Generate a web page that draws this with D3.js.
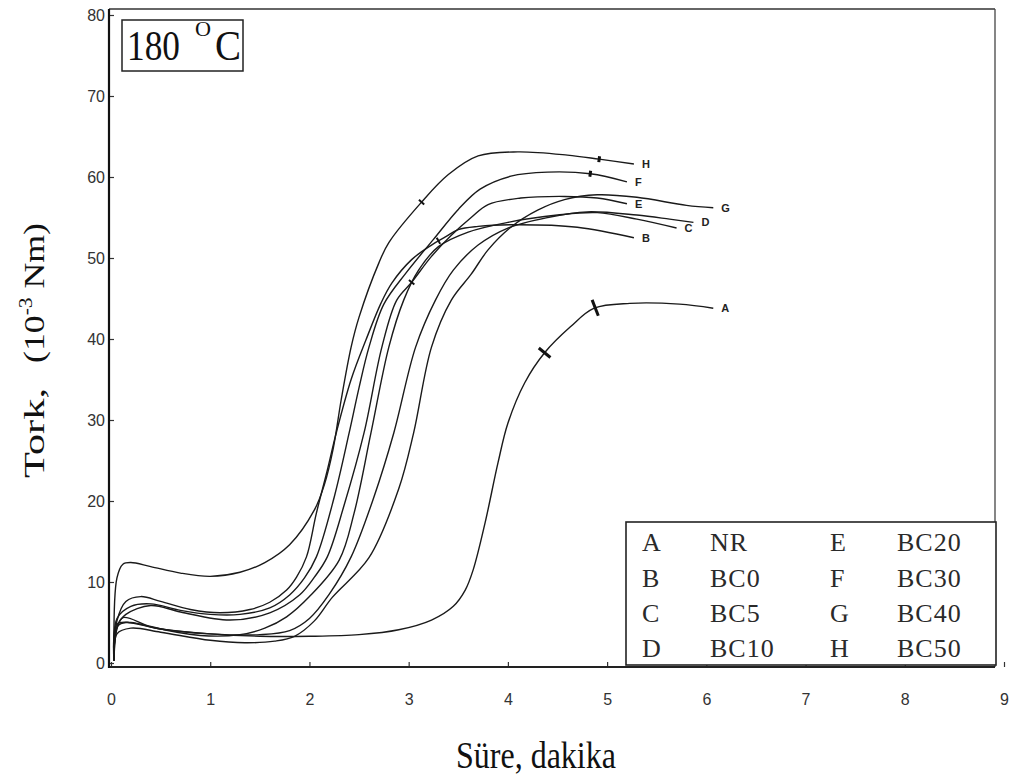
<!DOCTYPE html>
<html>
<head>
<meta charset="utf-8">
<script src="https://cdn.jsdelivr.net/npm/d3@7"></script>
<style>
  html, body { margin: 0; padding: 0; background: #fff; }
  svg { display: block; }
  .serif { font-family: "Liberation Serif", "Times New Roman", serif; fill: #111; }
  .legend { fill: #2a2a2a; }
  .tick text { font-family: "Liberation Sans", Arial, sans-serif; font-size: 16px; fill: #333; }
  .tick line { stroke: #333; stroke-width: 1.2; }
</style>
</head>
<body>
<svg id="chart" width="1011" height="778"></svg>
<script>
// Rheometer cure curves at 180 °C: torque (10^-3 Nm) against time (minutes)
const xTicks = [0, 1, 2, 3, 4, 5, 6, 7, 8, 9];
const yTicks = [0, 10, 20, 30, 40, 50, 60, 70, 80];

const legendCodes = ["A", "B", "C", "D", "E", "F", "G", "H"];
const legendNames = ["NR", "BC0", "BC5", "BC10", "BC20", "BC30", "BC40", "BC50"];

// [time, torque]
const curveA = [[0.03,0.3],[0.07,4.6],[0.15,5.0],[0.5,4.2],[1.0,3.6],[1.5,3.3],[2.0,3.3],[2.5,3.5],[2.9,4.1],[3.23,5.3],[3.45,7.0],[3.57,9.0],[3.65,11.5],[3.77,17.3],[3.9,24.7],[4.0,29.6],[4.17,34.6],[4.37,38.3],[4.63,41.5],[4.87,43.8],[5.23,44.4],[5.73,44.3],[6.07,43.8]];
const curveB = [[0.03,0.3],[0.06,5.2],[0.15,7.6],[0.3,8.2],[0.5,7.6],[0.8,6.6],[1.1,6.2],[1.4,6.6],[1.6,7.5],[1.77,9.0],[1.87,10.6],[1.97,13.1],[2.07,18.5],[2.18,23.8],[2.27,28.4],[2.42,35],[2.57,39.9],[2.72,44.4],[2.83,46.9],[3.03,49.8],[3.23,51.6],[3.37,52.6],[3.5,53.5],[3.7,53.9],[4.03,54.1],[4.7,53.8],[5.27,52.5]];
const curveC = [[0.03,0.3],[0.06,4.2],[0.12,5.6],[0.4,4.5],[0.9,3.4],[1.3,3.5],[1.55,4.3],[1.77,5.7],[2.0,8.2],[2.3,12.7],[2.45,18.5],[2.62,28.4],[2.8,39],[2.95,44.8],[3.1,48.5],[3.3,51.4],[3.6,53.2],[4.0,54.4],[4.5,55.3],[4.9,55.6],[5.3,54.8],[5.7,53.7]];
const curveD = [[0.03,0.3],[0.06,4.8],[0.2,5.0],[0.5,4.2],[1.0,3.6],[1.5,3.5],[1.8,4.0],[2.0,5.5],[2.2,8.5],[2.42,13.1],[2.65,20.5],[2.85,28.4],[3.07,39],[3.27,44.8],[3.45,48.5],[3.7,51.6],[4.0,53.7],[4.4,55],[4.8,55.7],[5.3,55.3],[5.63,54.8],[5.87,54.4]];
const curveE = [[0.03,0.3],[0.06,4.5],[0.15,6.0],[0.4,7.1],[0.7,6.3],[1.2,5.3],[1.6,6.2],[1.9,8.4],[2.05,10.6],[2.18,13.1],[2.35,19.5],[2.55,28.4],[2.73,39],[2.88,44.8],[3.03,47],[3.23,50.2],[3.43,52.8],[3.63,55],[3.8,56.6],[4.13,57.4],[4.57,57.6],[4.9,57.4],[5.2,56.7]];
const curveF = [[0.03,0.3],[0.06,5.5],[0.2,7.0],[0.4,7.3],[0.7,6.5],[1.0,6.0],[1.3,6.0],[1.6,6.8],[1.8,8.4],[1.95,10.5],[2.07,13.1],[2.25,20.5],[2.4,28.4],[2.5,34],[2.6,39],[2.75,44.3],[2.97,48.1],[3.25,52.3],[3.5,56],[3.72,58.5],[4.03,60.1],[4.4,60.6],[4.83,60.4],[5.2,59.4]];
const curveG = [[0.03,0.3],[0.06,3.6],[0.2,4.3],[0.5,3.8],[1.0,2.8],[1.35,2.5],[1.65,2.7],[1.85,3.3],[2.05,5.2],[2.23,8.1],[2.6,13],[2.9,21.5],[3.05,28.4],[3.23,39],[3.43,44.8],[3.63,48],[3.8,51],[4.03,53.8],[4.3,55.9],[4.57,57.2],[4.9,57.8],[5.3,57.5],[5.8,56.5],[6.07,56.2]];
const curveH = [[0.03,0.3],[0.06,10.5],[0.12,12.2],[0.2,12.4],[0.4,11.9],[0.7,11.1],[1.0,10.7],[1.3,11.2],[1.55,12.4],[1.8,14.6],[2.05,18.9],[2.15,22],[2.24,26.5],[2.32,32.5],[2.42,39],[2.5,42.7],[2.7,49.4],[2.8,51.9],[3.13,56.9],[3.4,60.3],[3.7,62.6],[4.1,63.1],[4.6,62.7],[4.92,62.2],[5.27,61.6]];

const series = [
  { code: "A", values: curveA },
  { code: "B", values: curveB },
  { code: "C", values: curveC },
  { code: "D", values: curveD },
  { code: "E", values: curveE },
  { code: "F", values: curveF },
  { code: "G", values: curveG },
  { code: "H", values: curveH }
];

// short cross-marks drawn on some curves (time of mark)
const marks = [
  { code: "A", t: 4.37, len: 15, w: 3 },
  { code: "A", t: 4.88, len: 17, w: 3 },
  { code: "H", t: 3.13, len: 7, w: 2 },
  { code: "H", t: 4.92, len: 6, w: 3 },
  { code: "F", t: 4.83, len: 6, w: 3 },
  { code: "B", t: 3.3, len: 7, w: 2 },
  { code: "E", t: 3.03, len: 7, w: 2 }
];

const svg = d3.select("#chart");

const x = d3.scaleLinear().domain([0, 9]).range([111, 1004]);
const y = d3.scaleLinear().domain([0, 80]).range([663, 15]);

const frame = { left: 109, top: 9, right: 995, bottom: 667 };

// axes with small inward ticks
svg.append("g")
  .attr("transform", `translate(0,${frame.bottom})`)
  .call(d3.axisBottom(x).tickValues(xTicks).tickFormat(d3.format("d"))
    .tickSizeInner(-5).tickSizeOuter(0).tickPadding(27))
  .call(g => g.select(".domain").remove());

svg.append("g")
  .attr("transform", `translate(${frame.left},0)`)
  .call(d3.axisLeft(y).tickValues(yTicks).tickFormat(d3.format("d"))
    .tickSizeInner(-5).tickSizeOuter(0).tickPadding(4))
  .call(g => g.select(".domain").remove());

// plot frame
svg.append("line").attr("x1", frame.left).attr("x2", frame.right).attr("y1", frame.top).attr("y2", frame.top)
  .attr("stroke", "#333").attr("stroke-width", 1.3);
svg.append("line").attr("x1", frame.right).attr("x2", frame.right).attr("y1", frame.top).attr("y2", frame.bottom)
  .attr("stroke", "#444").attr("stroke-width", 1.3);
svg.append("line").attr("x1", frame.left).attr("x2", frame.right).attr("y1", frame.bottom).attr("y2", frame.bottom)
  .attr("stroke", "#222").attr("stroke-width", 2.2);
svg.append("line").attr("x1", frame.left).attr("x2", frame.left).attr("y1", frame.top).attr("y2", frame.bottom + 1)
  .attr("stroke", "#111").attr("stroke-width", 2.2);

// curves
const line = d3.line().x(d => x(d[0])).y(d => y(d[1])).curve(d3.curveCatmullRom.alpha(0.5));
const paths = {};
series.forEach(s => {
  paths[s.code] = svg.append("path")
    .datum(s.values)
    .attr("d", line)
    .attr("fill", "none")
    .attr("stroke", "#1a1a1a")
    .attr("stroke-width", 1.4)
    .node();
});

// locate the point of a path at a given pixel x
function pointAtX(node, px) {
  const total = node.getTotalLength();
  let lo = 0, hi = total;
  for (let i = 0; i < 40; i++) {
    const mid = (lo + hi) / 2;
    if (node.getPointAtLength(mid).x < px) lo = mid; else hi = mid;
  }
  const L = (lo + hi) / 2;
  const p = node.getPointAtLength(L);
  const a = node.getPointAtLength(Math.max(0, L - 3));
  const b = node.getPointAtLength(Math.min(total, L + 3));
  return { p, dx: b.x - a.x, dy: b.y - a.y };
}

marks.forEach(m => {
  const r = pointAtX(paths[m.code], x(m.t));
  const n = Math.hypot(r.dx, r.dy) || 1;
  const nx = -r.dy / n, ny = r.dx / n;
  svg.append("line")
    .attr("x1", r.p.x - nx * m.len / 2).attr("y1", r.p.y - ny * m.len / 2)
    .attr("x2", r.p.x + nx * m.len / 2).attr("y2", r.p.y + ny * m.len / 2)
    .attr("stroke", "#111").attr("stroke-width", m.w);
});

// end-of-curve letters
series.forEach(s => {
  const last = s.values[s.values.length - 1];
  svg.append("text")
    .attr("x", x(last[0]) + 8)
    .attr("y", y(last[1]) + 4)
    .attr("font-family", "Liberation Sans, Arial, sans-serif")
    .attr("font-size", 11)
    .attr("font-weight", "bold")
    .attr("fill", "#222")
    .text(s.code);
});

// temperature box
svg.append("rect").attr("x", 122).attr("y", 20).attr("width", 121).attr("height", 51)
  .attr("fill", "none").attr("stroke", "#222").attr("stroke-width", 1.5);
svg.append("text").attr("class", "serif").attr("x", 127).attr("y", 60)
  .attr("font-size", 42).attr("textLength", 53).attr("lengthAdjust", "spacingAndGlyphs").text("180");
svg.append("text").attr("class", "serif").attr("x", 195).attr("y", 36)
  .attr("font-size", 22).attr("textLength", 16).attr("lengthAdjust", "spacingAndGlyphs").text("O");
svg.append("text").attr("class", "serif").attr("x", 215).attr("y", 60)
  .attr("font-size", 42).attr("textLength", 26).attr("lengthAdjust", "spacingAndGlyphs").text("C");

// legend
const lg = { x: 626, y: 522, w: 370, h: 143 };
svg.append("rect").attr("x", lg.x).attr("y", lg.y).attr("width", lg.w).attr("height", lg.h)
  .attr("fill", "#fff").attr("stroke", "#222").attr("stroke-width", 1.6);
const rowY = [551, 587, 622, 657];
legendCodes.forEach((c, i) => {
  const col = Math.floor(i / 4), row = i % 4;
  svg.append("text").attr("class", "serif legend").attr("font-size", 26)
    .attr("x", col === 0 ? 642 : 830).attr("y", rowY[row]).text(c);
  svg.append("text").attr("class", "serif legend").attr("font-size", 26)
    .attr("letter-spacing", 1)
    .attr("x", col === 0 ? 710 : 897).attr("y", rowY[row]).text(legendNames[i]);
});

// axis titles
svg.append("text").attr("class", "serif").attr("font-size", 32)
  .attr("text-anchor", "middle")
  .attr("transform", "translate(536,768) scale(1,1.2)")
  .text("Süre, dakika");

svg.append("text").attr("class", "serif").attr("font-size", 30)
  .attr("transform", "translate(44,478) rotate(-90)")
  .attr("textLength", 90).attr("lengthAdjust", "spacingAndGlyphs")
  .text("Tork,");

const yl = svg.append("text").attr("class", "serif").attr("font-size", 30)
  .attr("transform", "translate(44,363) rotate(-90)")
  .attr("textLength", 140).attr("lengthAdjust", "spacingAndGlyphs");
yl.append("tspan").text("(10");
yl.append("tspan").attr("font-size", 18).attr("dy", -12).text("-3");
yl.append("tspan").attr("dy", 12).text(" Nm)");
</script>
</body>
</html>
